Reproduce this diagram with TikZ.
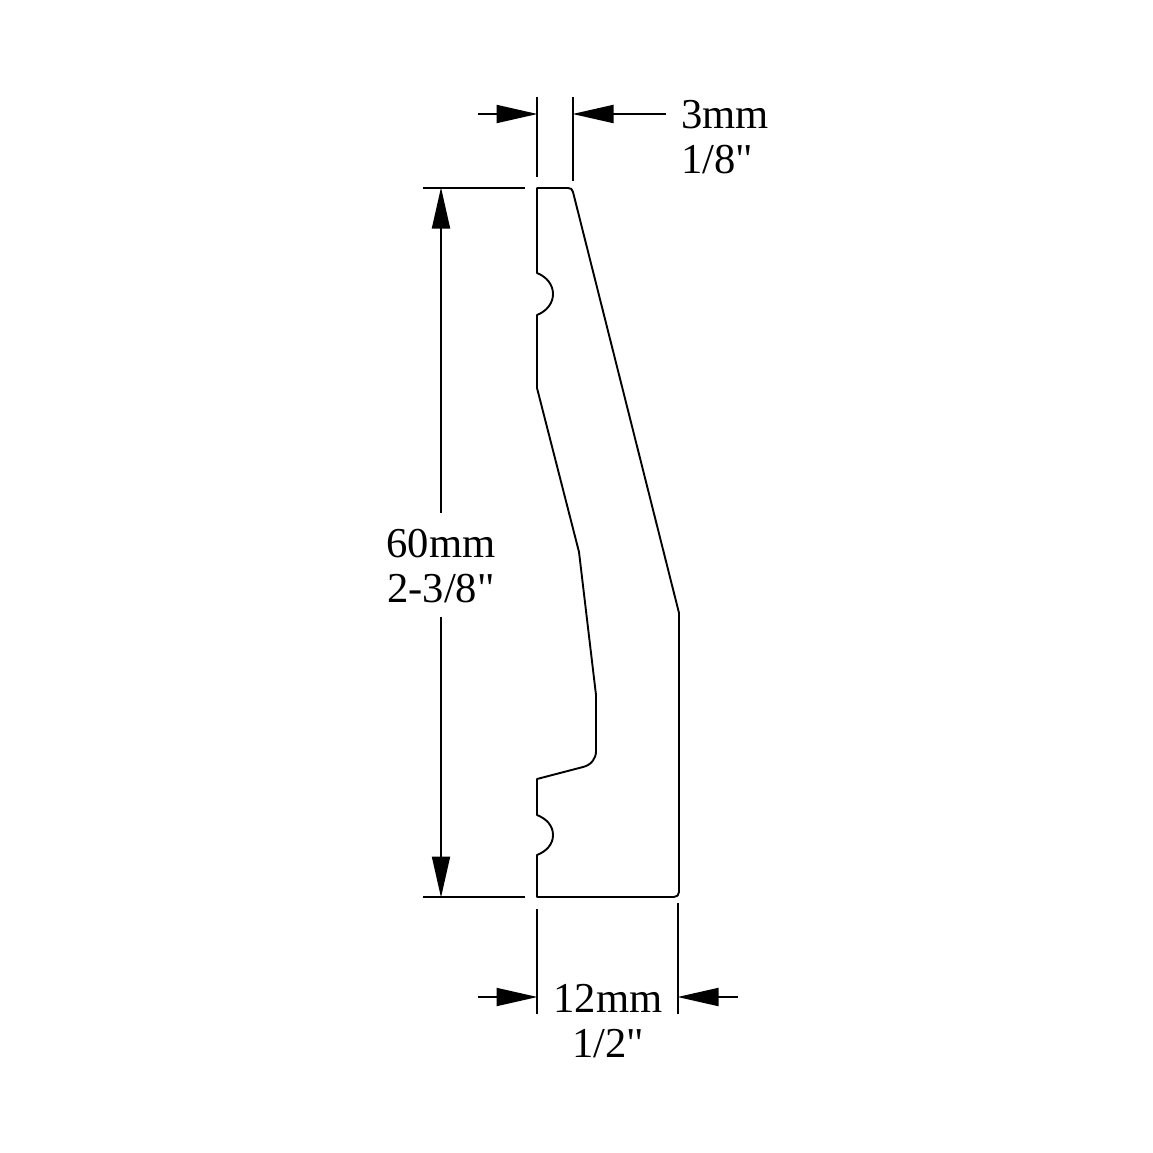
\documentclass[tikz,border=0pt]{standalone}
\usepackage{fontspec}
\setmainfont{Liberation Serif}[Ligatures=TeXOff]
\usetikzlibrary{arrows.meta}
\tikzstyle{profile} = [draw, line width=1.9pt, line join=round, fill=white]
\tikzstyle{extline} = [draw, line width=1.9pt]
\tikzstyle{dimline} = [draw, line width=1.9pt, -{Triangle[length=41pt,width=18pt]}, shorten >=-0.5pt]
\tikzstyle{dimtext} = [font=\fontsize{42.6}{44.5}\selectfont, inner sep=0pt]

\begin{document}
\begin{tikzpicture}[x=1pt,y=-1pt]
  \useasboundingbox (0,0) rectangle (1153,1153);

  % moulding profile
  \path[profile] (537,188) -- (568,188) .. controls (571,188) and (572,189) .. (573,192)
        -- (679,613) -- (679,892) .. controls (679,895) and (677,897) .. (674,897)
        -- (537,897) -- (537,855)
        .. controls (547,851) and (553,844) .. (553,835) .. controls (553,826) and (547,819) .. (537,815)
        -- (537,779) -- (583,767) .. controls (591,765) and (596,759) .. (596,751)
        -- (596,695) -- (579,552) -- (537,388) -- (537,315)
        .. controls (547,311) and (553,303) .. (553,294) .. controls (553,285) and (547,277) .. (537,273)
        -- cycle;

  % end points of the dimension lines
  \coordinate (topL1) at (537,97);
  \coordinate (topL2) at (537,177);
  \coordinate (topR1) at (573,97);
  \coordinate (topR2) at (573,181);
  \coordinate (topA) at (478,114);
  \coordinate (topB) at (537,114);
  \coordinate (topC) at (666,114);
  \coordinate (topD) at (573,114);
  \coordinate (sideT1) at (423,188);
  \coordinate (sideT2) at (525,188);
  \coordinate (sideB1) at (423,897);
  \coordinate (sideB2) at (525,897);
  \coordinate (sideA) at (441,513);
  \coordinate (sideB) at (441,188);
  \coordinate (sideC) at (441,617);
  \coordinate (sideD) at (441,897);
  \coordinate (botL1) at (537,909);
  \coordinate (botL2) at (537,1014);
  \coordinate (botR1) at (678,903);
  \coordinate (botR2) at (678,1014);
  \coordinate (botA) at (478,997);
  \coordinate (botB) at (537,997);
  \coordinate (botC) at (738,997);
  \coordinate (botD) at (678,997);

  \path[extline] (topL1) -- (topL2);
  \path[extline] (topR1) -- (topR2);
  \path[extline] (sideT1) -- (sideT2);
  \path[extline] (sideB1) -- (sideB2);
  \path[extline] (botL1) -- (botL2);
  \path[extline] (botR1) -- (botR2);

  \path[dimline] (topA) -- (topB);
  \path[dimline] (topC) -- (topD);
  \path[dimline] (sideA) -- (sideB);
  \path[dimline] (sideC) -- (sideD);
  \path[dimline] (botA) -- (botB);
  \path[dimline] (botC) -- (botD);

  \node[dimtext,align=left,anchor=west] (widthTop) at (681,137) {3mm\\1/8"};
  \node[dimtext,align=center] (height) at (441,566) {60mm\\2-3/8"};
  \node[dimtext,align=center] (widthBot) at (608,1021) {12mm\\1/2"};
\end{tikzpicture}
\end{document}
